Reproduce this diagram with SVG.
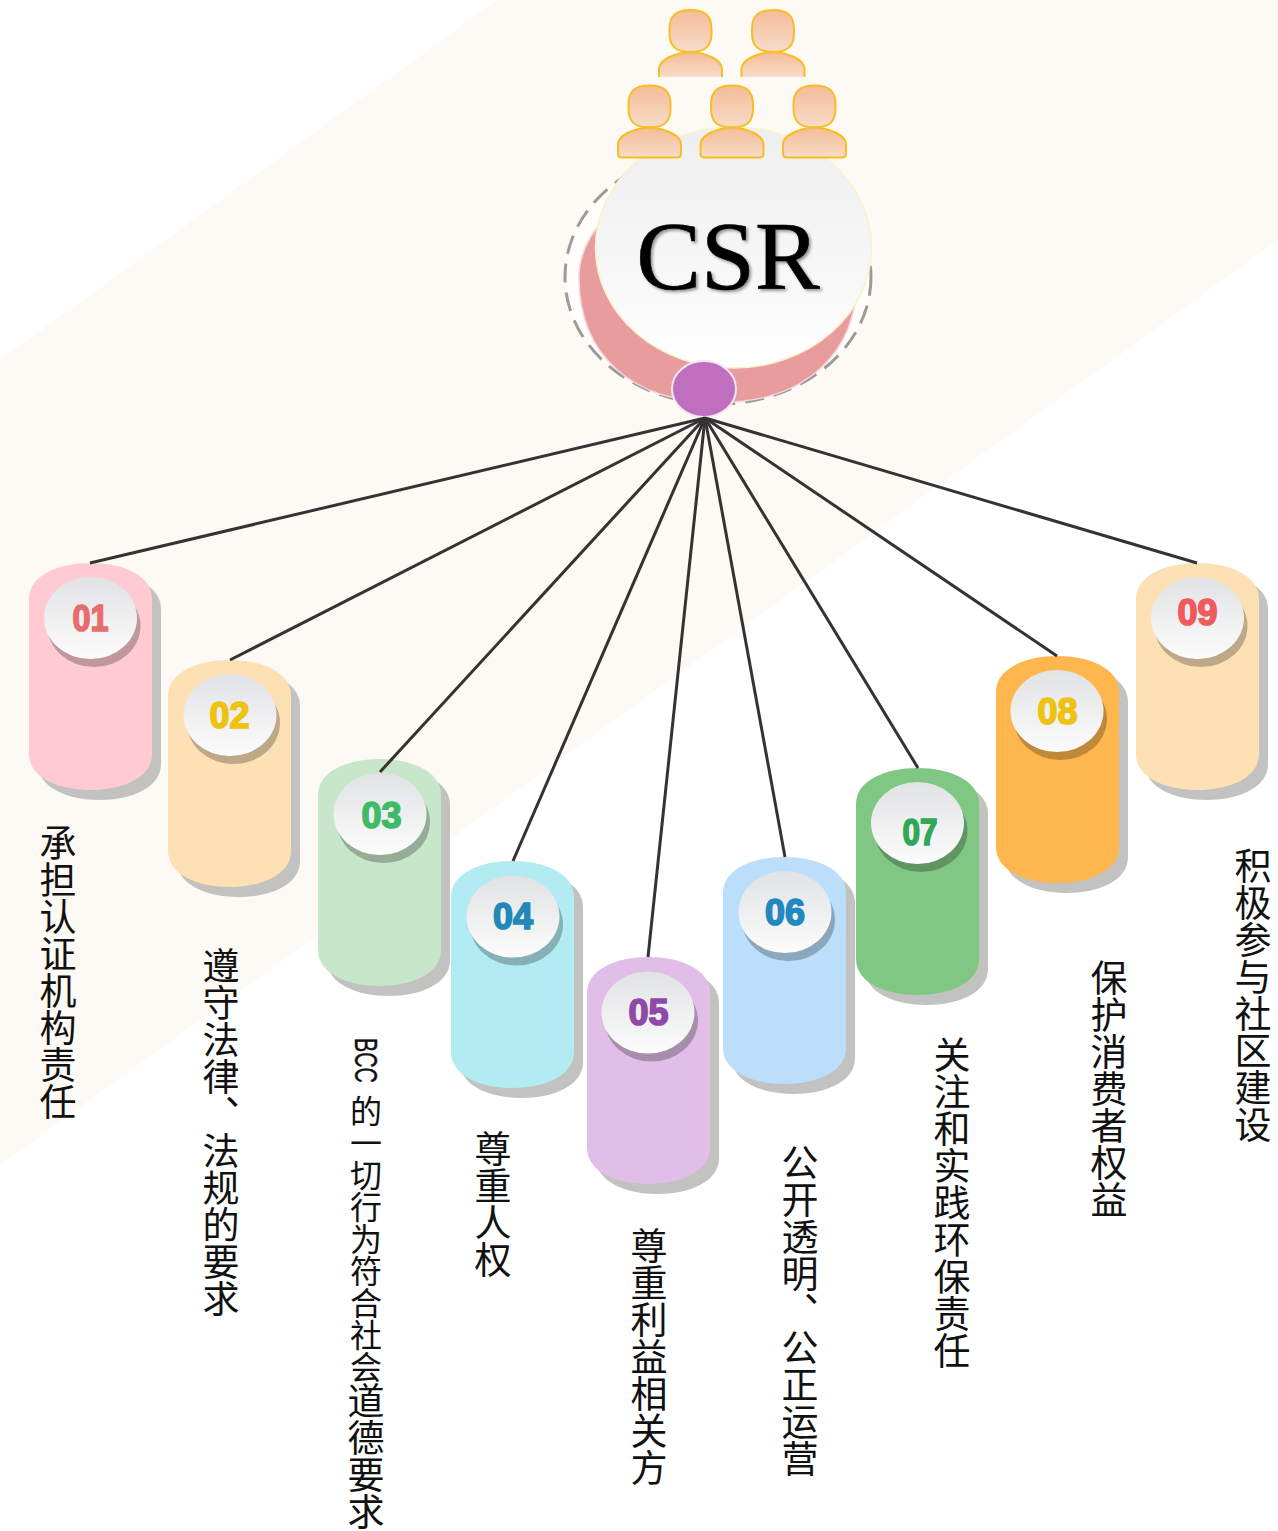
<svg xmlns="http://www.w3.org/2000/svg" width="1278" height="1531" viewBox="0 0 1278 1531">
<style>
.lbl{font-family:"Noto Sans CJK SC","Liberation Sans",sans-serif;font-size:37px;fill:#111;writing-mode:vertical-rl}
.num{font-family:"Liberation Sans",sans-serif;font-weight:bold;font-size:37px;text-anchor:middle;stroke-width:1.7px}
.conn{stroke:#333;stroke-width:3;fill:none}
.shadow{fill:#c2c2c0}
.dsh{fill:#000;opacity:.25}
.sk{fill:url(#skin);stroke:#f8bd20;stroke-width:2}
</style>
<defs>
<linearGradient id="disc" x1="0" y1="0" x2="0" y2="1"><stop offset="0" stop-color="#e1e2e4"/><stop offset="1" stop-color="#fcfcfc"/></linearGradient>
<linearGradient id="big" x1="0" y1="0" x2="0" y2="1"><stop offset="0" stop-color="#eeeff0"/><stop offset=".55" stop-color="#f6f6f7"/><stop offset="1" stop-color="#ffffff"/></linearGradient>
<linearGradient id="skin" x1="0" y1="0" x2="0" y2="1"><stop offset="0" stop-color="#f4bc98"/><stop offset="1" stop-color="#f8dcc8"/></linearGradient>
<filter id="ts" x="-10%" y="-10%" width="120%" height="120%"><feDropShadow dx="2" dy="2" stdDeviation="1.5" flood-color="#000" flood-opacity=".4"/></filter>
<path id="cap" d="M0 36C0 12 30 0 61.500 0S123 12 123 36V191C123 215 93 227 61.500 227S0 215 0 191Z"/>
<g id="disk"><ellipse class="dsh" cx="3.500" cy="8" rx="46.500" ry="41"/><ellipse fill="url(#disc)" cx="0" cy="0" rx="46.500" ry="41"/></g>
<path id="head" d="M21 0C36 0 42 6 42 19V23C42 36 36 42 21 42S0 36 0 23V19C0 6 6 0 21 0Z"/>
<path id="body" d="M31.500 0C48 1 63 8 63 17V26Q63 30 59 30H4Q0 30 0 26V17C0 8 15 1 31.500 0Z"/>
<path id="bodyCut" d="M0 25V17C0 8 15 1 31.500 0C48 1 63 8 63 17V25"/>
</defs>
<rect id="bg" width="1278" height="1531" fill="#ffffff"/>
<polygon id="band" points="0,360 497,0 1278,0 1278,240 0,1165" fill="#fdf9f4"/>
<g id="csr">
<ellipse cx="718" cy="277" rx="153" ry="127" fill="#ffffff" fill-opacity=".8" stroke="#9a9c9a" stroke-width="3" stroke-dasharray="19 10"/>
<path d="M579 277C579 355 632 402.500 718 402.500C804 402.500 857 355 857 277C857 220 800 170 718 170C650 170 579 220 579 277Z" fill="#e99c9e" stroke="#f6d4d6" stroke-width="1.500"/>
<ellipse cx="733.500" cy="247.500" rx="138" ry="120.500" fill="url(#big)" stroke="#f8f3c8" stroke-width="1.500"/>
<text x="728" y="289" font-family="Liberation Serif,serif" font-size="97" fill="#000" stroke="#000" stroke-width=".6" text-anchor="middle" filter="url(#ts)">CSR</text>
<ellipse cx="704" cy="389" rx="32" ry="28" fill="#c06fc0" stroke="#f3e6ee" stroke-width="2"/>
</g>
<g id="people">
<g id="person1"><use href="#head" class="sk" x="669.500" y="10"/><use href="#bodyCut" class="sk" x="659" y="52"/></g>
<g id="person2"><use href="#head" class="sk" x="752" y="10"/><use href="#bodyCut" class="sk" x="741.500" y="52"/></g>
<g id="person3"><use href="#head" class="sk" x="628.500" y="85.500"/><use href="#body" class="sk" x="618" y="127.500"/></g>
<g id="person4"><use href="#head" class="sk" x="711" y="85.500"/><use href="#body" class="sk" x="700.500" y="127.500"/></g>
<g id="person5"><use href="#head" class="sk" x="793.500" y="85.500"/><use href="#body" class="sk" x="783" y="127.500"/></g>
</g>
<g id="node01"><use href="#cap" x="38" y="573" class="shadow"/><use href="#cap" x="29" y="563" fill="#ffcad2"/><use href="#disk" x="90.500" y="618"/><text class="num" x="90.500" y="631" fill="#e66c6e" stroke="#e66c6e" textLength="36" lengthAdjust="spacingAndGlyphs">01</text><text class="lbl" x="58" y="824">承担认证机构责任</text></g>
<g id="node02"><use href="#cap" x="177" y="670" class="shadow"/><use href="#cap" x="168" y="660" fill="#fde0b4"/><use href="#disk" x="230" y="715"/><text class="num" x="229.500" y="728" fill="#eec212" stroke="#eec212" textLength="40" lengthAdjust="spacingAndGlyphs">02</text><text class="lbl" x="221" y="947.500">遵守法律、法规的要求</text></g>
<g id="node03"><use href="#cap" x="327" y="769" class="shadow"/><use href="#cap" x="318" y="759" fill="#c8e6c9"/><use href="#disk" x="380" y="814"/><text class="num" x="381.500" y="828" fill="#3fba68" stroke="#3fba68" textLength="40" lengthAdjust="spacingAndGlyphs">03</text><text transform="translate(354.500 1038) rotate(90)" font-family="Liberation Sans,sans-serif" font-size="32" fill="#111" stroke="#111" stroke-width=".4" textLength="45" lengthAdjust="spacingAndGlyphs">BCC</text><text class="lbl" x="366" y="1094.500"><tspan font-size="32">的一切行为符合社会</tspan><tspan>道德要求</tspan></text></g>
<g id="node04"><use href="#cap" x="460" y="871" class="shadow"/><use href="#cap" x="451" y="861" fill="#b2ebf2"/><use href="#disk" x="513" y="916.500"/><text class="num" x="513" y="929" fill="#2288b8" stroke="#2288b8" textLength="40" lengthAdjust="spacingAndGlyphs">04</text><text class="lbl" x="493" y="1130.500">尊重人权</text></g>
<g id="node05"><use href="#cap" x="596" y="967" class="shadow"/><use href="#cap" x="587" y="957" fill="#e1bee7"/><use href="#disk" x="648" y="1012.500"/><text class="num" x="648.500" y="1025" fill="#8e4aa8" stroke="#8e4aa8" textLength="40" lengthAdjust="spacingAndGlyphs">05</text><text class="lbl" x="649" y="1227.500">尊重利益相关方</text></g>
<g id="node06"><use href="#cap" x="732" y="867" class="shadow"/><use href="#cap" x="723" y="857" fill="#bbdefb"/><use href="#disk" x="785" y="912"/><text class="num" x="785" y="925" fill="#2288c0" stroke="#2288c0" textLength="40" lengthAdjust="spacingAndGlyphs">06</text><text class="lbl" x="800" y="1144.500">公开透明、公正运营</text></g>
<g id="node07"><use href="#cap" x="865" y="778" class="shadow"/><use href="#cap" x="856" y="768" fill="#81c784"/><use href="#disk" x="917.500" y="823"/><text class="num" x="920" y="845" fill="#2fa858" stroke="#2fa858" textLength="35" lengthAdjust="spacingAndGlyphs">07</text><text class="lbl" x="952" y="1036.500">关注和实践环保责任</text></g>
<g id="node08"><use href="#cap" x="1005" y="666" class="shadow"/><use href="#cap" x="996" y="656" fill="#ffb74d"/><use href="#disk" x="1057" y="711"/><text class="num" x="1057.500" y="724" fill="#eec212" stroke="#eec212" textLength="40" lengthAdjust="spacingAndGlyphs">08</text><text class="lbl" x="1109" y="959.500">保护消费者权益</text></g>
<g id="node09"><use href="#cap" x="1145" y="573" class="shadow"/><use href="#cap" x="1136" y="563" fill="#fde0b4"/><use href="#disk" x="1197.500" y="618"/><text class="num" x="1197.500" y="625" fill="#ee5a5e" stroke="#ee5a5e" textLength="40" lengthAdjust="spacingAndGlyphs">09</text><text class="lbl" x="1253" y="847.500">积极参与社区建设</text></g>
<g id="connectors">
<line class="conn" x1="705" y1="418" x2="90" y2="563"/>
<line class="conn" x1="705" y1="418" x2="230" y2="660"/>
<line class="conn" x1="705" y1="418" x2="380" y2="772"/>
<line class="conn" x1="705" y1="418" x2="513" y2="861"/>
<line class="conn" x1="705" y1="418" x2="648" y2="957"/>
<line class="conn" x1="705" y1="418" x2="785" y2="857"/>
<line class="conn" x1="705" y1="418" x2="918" y2="768"/>
<line class="conn" x1="705" y1="418" x2="1057" y2="656"/>
<line class="conn" x1="705" y1="418" x2="1197" y2="563"/>
</g>
</svg>
